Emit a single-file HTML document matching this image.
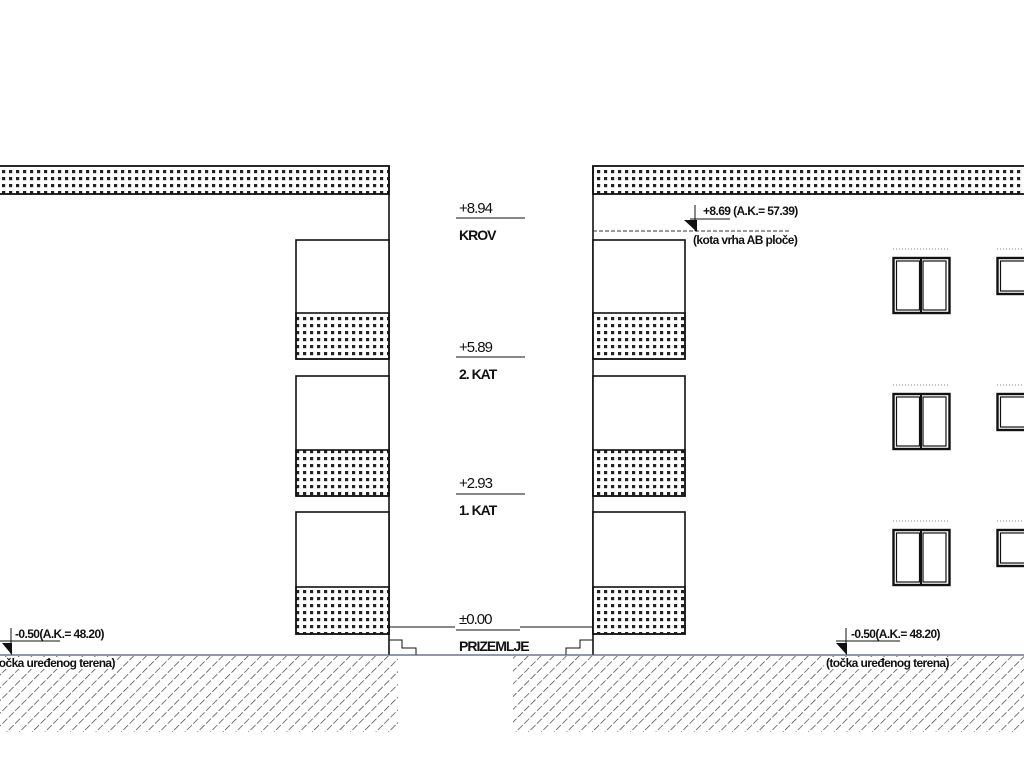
<!DOCTYPE html>
<html><head><meta charset="utf-8"><style>
html,body{margin:0;padding:0;background:#fff;width:1024px;height:768px;overflow:hidden}
svg{display:block}
text{font-family:"Liberation Sans",sans-serif;fill:#111}
</style></head><body>
<svg width="1024" height="768" viewBox="0 0 1024 768" xmlns="http://www.w3.org/2000/svg">
<defs>
<pattern id="dots" width="7" height="7" patternUnits="userSpaceOnUse">
<rect x="2" y="2" width="3.2" height="3.2" fill="#222"/>
</pattern>
<pattern id="hatch" width="9" height="9" patternUnits="userSpaceOnUse" patternTransform="rotate(45)">
<line x1="0" y1="0" x2="0" y2="9" stroke="#333" stroke-width="1.3" stroke-dasharray="6 2"/>
</pattern>
</defs>
<rect x="-2" y="166" width="391" height="28" fill="url(#dots)" stroke="#111" stroke-width="1.8"/>
<rect x="593" y="166" width="433" height="28" fill="url(#dots)" stroke="#111" stroke-width="1.8"/>
<line x1="389" y1="166" x2="389" y2="655" stroke="#111" stroke-width="1.6"/>
<line x1="593" y1="166" x2="593" y2="655" stroke="#111" stroke-width="1.6"/>
<g stroke="#111" stroke-width="1.6">
<rect x="296" y="240" width="93" height="119" fill="#fff"/>
<rect x="296" y="313" width="93" height="46" fill="url(#dots)"/>
<rect x="296" y="376" width="93" height="120" fill="#fff"/>
<rect x="296" y="450" width="93" height="46" fill="url(#dots)"/>
<rect x="296" y="512" width="93" height="122" fill="#fff"/>
<rect x="296" y="587" width="93" height="47" fill="url(#dots)"/>
<rect x="593" y="240" width="92" height="119" fill="#fff"/>
<rect x="593" y="313" width="92" height="46" fill="url(#dots)"/>
<rect x="593" y="376" width="92" height="120" fill="#fff"/>
<rect x="593" y="450" width="92" height="46" fill="url(#dots)"/>
<rect x="593" y="512" width="92" height="122" fill="#fff"/>
<rect x="593" y="587" width="92" height="47" fill="url(#dots)"/>
</g>
<g stroke="#111" stroke-width="1">
<line x1="456" y1="218" x2="525" y2="218"/>
<line x1="456" y1="357" x2="525" y2="357"/>
<line x1="456" y1="494" x2="525" y2="494"/>
<line x1="389" y1="627" x2="455" y2="627"/>
<line x1="520" y1="627" x2="593" y2="627"/>
<line x1="456" y1="630" x2="520" y2="630"/>
<polyline points="389,640 402,640 402,648 416,648 416,655" fill="none"/>
<polyline points="593,640 580,640 580,648 566,648 566,655" fill="none"/>
</g>
<g font-size="15" letter-spacing="-1">
<text x="459" y="213">+8.94</text>
<text x="459" y="352">+5.89</text>
<text x="459" y="488">+2.93</text>
<text x="459" y="624">±0.00</text>
</g>
<g font-size="14" font-weight="bold" letter-spacing="-1">
<text x="459" y="240">KROV</text>
<text x="459" y="379">2. KAT</text>
<text x="459" y="515">1. KAT</text>
<text x="459" y="651">PRIZEMLJE</text>
</g>
<line x1="593" y1="231" x2="790" y2="231" stroke="#333" stroke-dasharray="4 2"/>
<line x1="695" y1="205" x2="695" y2="231" stroke="#111"/>
<line x1="690" y1="219" x2="730" y2="219" stroke="#111"/>
<polygon points="684,220 697,220 697,232" fill="#111"/>
<text x="703" y="215" font-size="12" font-weight="bold" letter-spacing="-0.6">+8.69 (A.K.= 57.39)</text>
<text x="693" y="244" font-size="12" font-weight="bold" letter-spacing="-0.6">(kota vrha AB ploče)</text>
<rect x="0" y="656" width="398" height="76" fill="url(#hatch)"/>
<rect x="513" y="656" width="511" height="76" fill="url(#hatch)"/>
<line x1="0" y1="655" x2="1024" y2="655" stroke="#4a5a80" stroke-width="1.2"/>
<line x1="11" y1="628" x2="11" y2="654" stroke="#111"/>
<line x1="0" y1="641" x2="60" y2="641" stroke="#111"/>
<polygon points="2,643 12,643 12,655" fill="#111"/>
<text x="15" y="638" font-size="12" font-weight="bold" letter-spacing="-0.6">-0.50(A.K.= 48.20)</text>
<rect x="0" y="657" width="115" height="12" fill="#fff"/>
<text x="-8" y="667" font-size="12" font-weight="bold" letter-spacing="-0.6">(točka uređenog terena)</text>
<line x1="846" y1="628" x2="846" y2="654" stroke="#111"/>
<line x1="836" y1="641" x2="900" y2="641" stroke="#111"/>
<polygon points="836,643 847,643 847,655" fill="#111"/>
<text x="851" y="638" font-size="12" font-weight="bold" letter-spacing="-0.6">-0.50(A.K.= 48.20)</text>
<rect x="824" y="657" width="126" height="12" fill="#fff"/>
<text x="826" y="667" font-size="12" font-weight="bold" letter-spacing="-0.6">(točka uređenog terena)</text>
<g fill="none" stroke="#111">
<g id="w1">
<line x1="893" y1="249" x2="949" y2="249" stroke="#888" stroke-dasharray="1 2"/>
<rect x="893.5" y="258" width="56" height="55" stroke-width="2.4"/>
<rect x="896.5" y="261" width="23" height="49" stroke-width="1.2"/>
<rect x="923" y="261" width="23" height="49" stroke-width="1.2"/>
<line x1="921" y1="258" x2="921" y2="313" stroke-width="2"/>
<line x1="997" y1="249" x2="1024" y2="249" stroke="#888" stroke-dasharray="1 2"/>
<rect x="997.5" y="258" width="40" height="36" stroke-width="2.4"/>
<rect x="1000.5" y="261" width="35" height="30" stroke-width="1.2"/>
</g>
<use href="#w1" y="136"/>
<use href="#w1" y="272"/>
</g>
</svg>
</body></html>
